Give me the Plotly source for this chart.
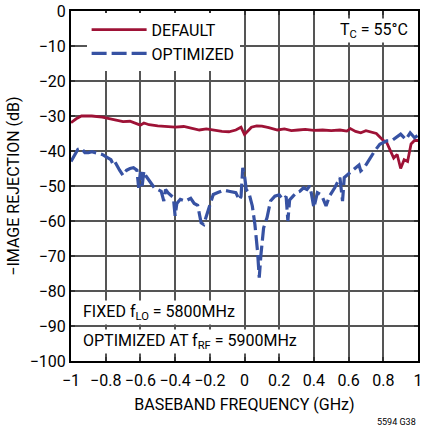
import plotly.graph_objects as go

# DEFAULT curve
x_default = [-1.0, -0.97, -0.94, -0.88, -0.82, -0.78, -0.74, -0.70, -0.66, -0.62, -0.60, -0.58, -0.55,
             -0.50, -0.45, -0.40, -0.35, -0.30, -0.26, -0.22, -0.18, -0.13, -0.09, -0.05, -0.02, 0.0,
             0.015, 0.04, 0.07, 0.10, 0.14, 0.19, 0.23, 0.27, 0.31, 0.35, 0.40, 0.45, 0.50, 0.55,
             0.59, 0.61, 0.64, 0.67, 0.70, 0.73, 0.76, 0.78, 0.80, 0.82, 0.84, 0.86, 0.88, 0.90,
             0.92, 0.94, 0.96, 0.98, 1.0]
y_default = [-31.9, -30.8, -30.0, -30.0, -30.3, -30.8, -31.3, -31.6, -31.5, -32.2, -32.6, -32.0, -32.5,
             -32.8, -33.0, -33.2, -33.0, -33.6, -34.0, -33.7, -34.1, -34.4, -34.5, -34.0, -33.2, -35.3,
             -34.5, -33.2, -32.8, -32.9, -33.3, -34.0, -33.7, -34.2, -34.0, -33.8, -34.1, -34.0, -34.2, -34.0,
             -34.3, -33.6, -34.4, -34.8, -34.2, -34.7, -35.0, -36.0, -37.0, -37.6, -40.0, -42.0, -41.0, -45.0,
             -42.5, -43.0, -38.0, -37.0, -37.0]

# OPTIMIZED curve
x_opt = [-1.0, -0.98, -0.96, -0.94, -0.92, -0.90, -0.88, -0.85, -0.82, -0.79, -0.77, -0.76, -0.75,
         -0.72, -0.70, -0.68, -0.66, -0.64, -0.62, -0.61, -0.60, -0.59, -0.58, -0.57, -0.55, -0.52,
         -0.50, -0.48, -0.465, -0.455, -0.44, -0.41, -0.40, -0.39, -0.37, -0.34, -0.31, -0.29, -0.27,
         -0.26, -0.25, -0.235, -0.22, -0.20, -0.18, -0.15, -0.12, -0.09, -0.05, -0.03, -0.02, -0.01,
         0.0, 0.01, 0.025, 0.045, 0.06, 0.075, 0.085, 0.095, 0.11, 0.13, 0.15, 0.175, 0.20, 0.22,
         0.24, 0.25, 0.26, 0.28, 0.30, 0.32, 0.34, 0.36, 0.375, 0.385, 0.40, 0.42, 0.44, 0.45, 0.47,
         0.49, 0.52, 0.55, 0.56, 0.565, 0.575, 0.60, 0.62, 0.64, 0.66, 0.67, 0.69, 0.72, 0.75, 0.78,
         0.80, 0.82, 0.85, 0.87, 0.90, 0.93, 0.955, 0.98, 1.0]
y_opt = [-43.0, -41.0, -39.5, -39.2, -40.5, -40.5, -40.2, -40.6, -41.0, -41.9, -42.5, -43.5, -42.8,
         -45.5, -47.0, -45.5, -45.0, -44.8, -45.5, -50.5, -46.0, -50.0, -45.8, -47.0, -48.5, -50.5,
         -51.0, -51.5, -54.3, -51.0, -52.0, -53.3, -58.5, -55.0, -53.8, -54.3, -53.5, -55.0, -55.5,
         -58.0, -60.5, -61.0, -58.6, -55.0, -52.4, -51.8, -51.2, -51.5, -51.9, -54.0, -53.0, -44.8,
         -47.0, -51.0, -51.9, -55.7, -61.0, -68.6, -76.2, -69.5, -62.0, -59.0, -54.3, -52.9, -52.5, -53.8,
         -53.0, -60.0, -54.0, -52.9, -51.9, -51.5, -50.5, -51.0, -50.0, -52.0, -56.2, -51.9, -52.5, -53.3, -55.7,
         -52.9, -50.5, -47.6, -52.0, -54.3, -47.6, -46.5, -45.7, -45.0, -44.0, -45.7, -44.8, -42.4, -40.0, -38.1,
         -37.6, -37.1, -37.0, -36.2, -35.2, -36.7, -34.8, -36.2, -35.5]

x_ticks = [-1, -0.8, -0.6, -0.4, -0.2, 0, 0.2, 0.4, 0.6, 0.8, 1]
x_ticklabels = ["\u22121", "\u22120.8", "\u22120.6", "\u22120.4", "\u22120.2", "0", "0.2", "0.4", "0.6", "0.8", "1"]
y_ticks = [0, -10, -20, -30, -40, -50, -60, -70, -80, -90, -100]
y_ticklabels = ["0" if v == 0 else "\u2212" + str(-v) for v in y_ticks]

FONT = "Roboto, Liberation Sans, Arial, sans-serif"
RED = "#9e1236"
BLUE = "#3752a3"

fig = go.Figure()
fig.add_trace(go.Scatter(x=x_default, y=y_default, mode="lines", name="DEFAULT",
                         line=dict(color=RED, width=2.8)))
fig.add_trace(go.Scatter(x=x_opt, y=y_opt, mode="lines", name="OPTIMIZED",
                         line=dict(color=BLUE, width=3.2, dash="15px,5px")))

fig.update_layout(
    width=425, height=429,
    margin=dict(l=71, r=2, t=10, b=68),
    paper_bgcolor="white", plot_bgcolor="white",
    font=dict(family=FONT, size=16, color="black"),
    showlegend=True,
    legend=dict(x=0.045, y=0.995, xanchor="left", yanchor="top", bgcolor="white",
                font=dict(family=FONT, size=16), tracegroupgap=0, itemwidth=55),
    xaxis=dict(range=[-1, 1], tickvals=x_ticks, ticktext=x_ticklabels, tickangle=0,
               showgrid=True, gridcolor="#555555", gridwidth=1.5,
               showline=True, linecolor="black", linewidth=2, mirror="ticks",
               ticks="inside", ticklen=4, tickcolor="#333333", tickwidth=1.5,
               zeroline=False, ticklabeloverflow="allow", ticklabelstandoff=4,
               tickfont=dict(family=FONT, size=16),
               title=dict(text="BASEBAND FREQUENCY (GHz)", font=dict(family=FONT, size=16), standoff=10)),
    yaxis=dict(range=[-100, 0], tickvals=y_ticks, ticktext=y_ticklabels,
               showgrid=True, gridcolor="#555555", gridwidth=1.5,
               showline=True, linecolor="black", linewidth=2, mirror="ticks",
               ticks="inside", ticklen=4, tickcolor="#333333", tickwidth=1.5,
               zeroline=False,
               tickfont=dict(family=FONT, size=16),
               title=dict(text="\u2212IMAGE REJECTION (dB)", font=dict(family=FONT, size=16), standoff=6)),
    annotations=[
        dict(text="T<sub>C</sub> = 55°C", xref="paper", yref="paper", x=0.978, y=0.945,
             xanchor="right", yanchor="middle", showarrow=False, bgcolor="white",
             font=dict(family=FONT, size=16)),
        dict(text="FIXED f<sub>LO</sub> = 5800MHz", xref="paper", yref="paper", x=0.03, y=0.14,
             xanchor="left", yanchor="middle", showarrow=False, bgcolor="white",
             font=dict(family=FONT, size=16)),
        dict(text="OPTIMIZED AT f<sub>RF</sub> = 5900MHz", xref="paper", yref="paper", x=0.03, y=0.055,
             xanchor="left", yanchor="middle", showarrow=False, bgcolor="white",
             font=dict(family=FONT, size=16)),
        dict(text="5594 G38", xref="paper", yref="paper", x=1.0, y=-0.155,
             xanchor="right", yanchor="top", showarrow=False,
             font=dict(family=FONT, size=9)),
    ],
)

fig.write_html("out.html", config={"displayModeBar": False},
               post_script="document.body.style.margin='0';")
